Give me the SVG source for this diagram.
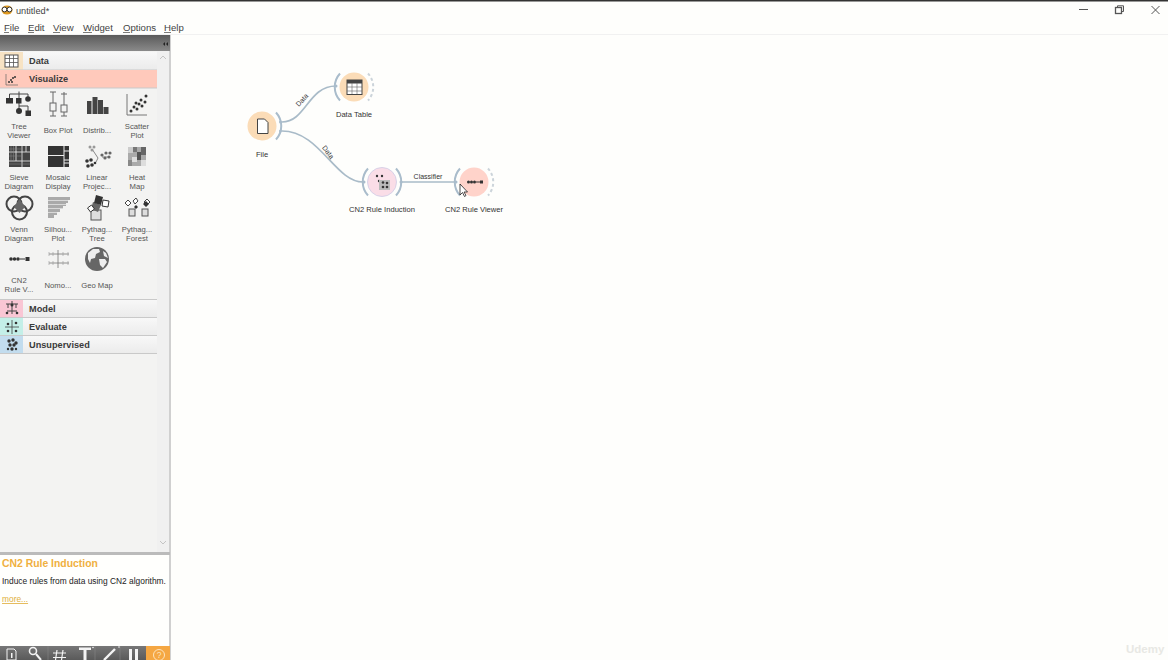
<svg xmlns="http://www.w3.org/2000/svg" width="1168" height="660" viewBox="0 0 1168 660">
<style>
text{font-family:"Liberation Sans","DejaVu Sans",sans-serif;fill:#333}
.m{font-size:9.6px;fill:#444}
.t{font-size:7.7px;text-anchor:middle;fill:#555}
.c{font-size:9.2px;font-weight:bold;fill:#3a3a3a}
.l{font-size:7.6px;text-anchor:middle;fill:#333}
.e{font-size:7px;text-anchor:middle;fill:#333}
.k{fill:#333}
.hl{stroke:#c9c9c9;stroke-width:1.2}
.w{fill:none;stroke:#a9bccb;stroke-width:2}
.wd{fill:none;stroke:#ccd4da;stroke-width:2;stroke-dasharray:3 2.5}
.lk{fill:none;stroke:#a9bbc8;stroke-width:1.7}
.tb{fill:#f4f4f4}
</style>
<defs>
<linearGradient id="hd" x1="0" y1="0" x2="0" y2="1"><stop offset="0" stop-color="#5a5a5a"/><stop offset="1" stop-color="#8a8a8a"/></linearGradient>
<linearGradient id="cat" x1="0" y1="0" x2="0" y2="1"><stop offset="0" stop-color="#f8f8f8"/><stop offset="1" stop-color="#ebebeb"/></linearGradient>
<linearGradient id="bar" x1="0" y1="0" x2="0" y2="1"><stop offset="0" stop-color="#777"/><stop offset="1" stop-color="#5a5a5a"/></linearGradient>
</defs>
<rect width="1168" height="660" fill="#fefefc"/>
<rect width="1168" height="1.500" fill="#333"/>
<rect y="34" width="1168" height="1" fill="#f1f1f1"/>

<g id="titlebar">
<ellipse cx="7" cy="10" rx="5.500" ry="4.500" fill="#e09a1f"/>
<circle cx="4.500" cy="9.500" r="2.400" fill="#fff" stroke="#333"/><circle cx="9.500" cy="9.500" r="2.400" fill="#fff" stroke="#333"/>
<text x="16" y="13.500" font-size="9.200" style="fill:#444">untitled*</text>
<path d="M1079 9.500H1088" stroke="#555" stroke-width="1"/>
<rect x="1115.500" y="7.500" width="6" height="6" fill="none" stroke="#555" stroke-width="1.300"/><path d="M1117.500 7V5.800H1123.500V11.500H1122" fill="none" stroke="#555"/>
<path d="M1151.500 6L1159.500 14M1159.500 6L1151.500 14" stroke="#555" stroke-width="1"/>
</g>
<g id="menubar">
<text class="m" x="4" y="31">File</text><path d="M4 32.500H9" stroke="#444" stroke-width=".7"/>
<text class="m" x="28" y="31">Edit</text><path d="M28 32.500H34" stroke="#444" stroke-width=".7"/>
<text class="m" x="53" y="31">View</text><path d="M53 32.500H60" stroke="#444" stroke-width=".7"/>
<text class="m" x="83" y="31">Widget</text><path d="M83 32.500H92" stroke="#444" stroke-width=".7"/>
<text class="m" x="123" y="31">Options</text><path d="M123 32.500H130" stroke="#444" stroke-width=".7"/>
<text class="m" x="164" y="31">Help</text><path d="M164 32.500H171" stroke="#444" stroke-width=".7"/>
</g>

<g id="toolbox">
<rect x="0" y="35" width="170" height="519" fill="#f3f3f2"/>
<rect x="169" y="35" width="2" height="625" fill="#d0d0d0"/>
<rect x="0" y="35" width="170" height="16" fill="url(#hd)"/>
<path d="M163 44l2-2v4zM166 44l2-2v4z" fill="#222"/>
<rect x="157" y="51" width="12" height="501" fill="#f0f0f0"/>
<path d="M160 59l3-3 3 3M160 541l3 3 3-3" fill="none" stroke="#c4c4c4"/>

<rect x="0" y="52" width="157" height="18" fill="url(#cat)"/>
<rect x="0" y="52" width="23" height="18" fill="#f7e3c4"/>
<rect x="5" y="55" width="13" height="12" fill="#fff" stroke="#555"/>
<path d="M5 58.500H18M5 62.500H18M9.500 55V67M13.500 55V67" stroke="#555" stroke-width=".8"/>
<text class="c" x="29" y="64.300">Data</text>
<path class="hl" d="M0 70H157"/>

<rect x="0" y="70" width="157" height="18" fill="#ffc9bb"/>
<path d="M6 74V85H18" fill="none" stroke="#666" stroke-width=".7"/>
<circle cx="9" cy="82" r="1" class="k"/><circle cx="11" cy="80" r="1" class="k"/><circle cx="13" cy="78" r="1" class="k"/><circle cx="15" cy="77" r="1" class="k"/><circle cx="12" cy="82" r="1" class="k"/>
<text class="c" x="29" y="82.300">Visualize</text>
<path class="hl" d="M0 88H157"/>

<rect x="0" y="299" width="157" height="18" fill="url(#cat)"/>
<rect x="0" y="300" width="23" height="17" fill="#f9c6d4"/>
<path d="M6 304H18M12 301V314M8 304V308M16 304V308M7 311H17" stroke="#444" stroke-width="1" fill="none"/>
<circle cx="12" cy="305" r="1.500" class="k"/><circle cx="7" cy="313" r="1.300" class="k"/><circle cx="17" cy="313" r="1.300" class="k"/>
<text class="c" x="29" y="312">Model</text>
<path class="hl" d="M0 299.500H157M0 317.500H157"/>

<rect x="0" y="318" width="157" height="18" fill="url(#cat)"/>
<rect x="0" y="318" width="23" height="18" fill="#c4efe8"/>
<path d="M5 327H19M12 320V334" stroke="#444" stroke-width=".8"/>
<circle cx="8" cy="324" r="1.300" class="k"/><circle cx="16" cy="323" r="1.300" class="k"/><circle cx="8" cy="331" r="1.300" class="k"/><circle cx="16" cy="331" r="1.300" class="k"/>
<text class="c" x="29" y="330">Evaluate</text>
<path class="hl" d="M0 335.500H157"/>

<rect x="0" y="336" width="157" height="18" fill="url(#cat)"/>
<rect x="0" y="336" width="23" height="18" fill="#c2dcee"/>
<g class="k"><circle cx="9" cy="341" r="1.700"/><circle cx="13" cy="340" r="1.700"/><circle cx="16" cy="343" r="1.700"/><circle cx="10" cy="345" r="1.700"/><circle cx="14" cy="345" r="1.700"/><circle cx="12" cy="349" r="1.700"/><circle cx="8" cy="349" r="1.200"/><circle cx="16" cy="349" r="1.200"/></g>
<text class="c" x="29" y="348.300">Unsupervised</text>
<path class="hl" d="M0 353.500H157"/>

<g id="tool-tree-viewer">
<path d="M9.500 94H28M19 91.500V98M9.500 94V98M28 94V97M19 103V109M19 106H28V111" stroke="#444" fill="none"/>
<rect x="6" y="98" width="7" height="5.500" class="k"/><rect x="16" y="98" width="5.500" height="5.500" class="k"/><circle cx="28" cy="99" r="2.800" class="k"/><circle cx="19" cy="111" r="3" class="k"/><rect x="25.500" y="110.500" width="5.500" height="5.500" class="k"/>
<text class="t" x="19" y="128.500">Tree</text><text class="t" x="19" y="137.500">Viewer</text>
</g>
<g id="tool-box-plot">
<path d="M53 92V116M64 92V116M50 92H56M61 94H67M50 116H56M61 116H67" stroke="#666"/>
<rect x="50" y="103" width="6" height="8" fill="#f3f3f2" stroke="#666"/><rect x="61" y="105" width="6" height="7" fill="#f3f3f2" stroke="#666"/>
<text class="t" x="58" y="133">Box Plot</text>
</g>
<g id="tool-distributions">
<rect x="87" y="101" width="4.500" height="13" fill="#444"/><rect x="92.500" y="97" width="5" height="17" fill="#444"/><rect x="98" y="100" width="5" height="14" fill="#444"/><rect x="103.500" y="107" width="5" height="7" fill="#444"/>
<text class="t" x="97" y="133">Distrib...</text>
</g>
<g id="tool-scatter-plot">
<path d="M127 94V115H147" fill="none" stroke="#777"/>
<g class="k"><circle cx="131" cy="111" r="1.500"/><circle cx="134" cy="107" r="1.500"/><circle cx="137" cy="109" r="1.500"/><circle cx="139" cy="104" r="1.500"/><circle cx="142" cy="106" r="1.500"/><circle cx="141" cy="100" r="1.500"/><circle cx="145" cy="102" r="1.500"/><circle cx="146" cy="96" r="1.500"/><circle cx="136" cy="103" r="1.500"/></g>
<text class="t" x="137" y="128.500">Scatter</text><text class="t" x="137" y="137.500">Plot</text>
</g>

<g id="tool-sieve">
<rect x="9" y="146" width="21" height="21" fill="#444"/><path d="M9 152H30M9 161H30M16 146V161M22 146V167M26 146V152" stroke="#eee" stroke-width=".8"/><path d="M11 146V161M13.500 146V161M9 149H22M9 156H22M9 164H30" stroke="#888" stroke-width=".5"/>
<text class="t" x="19" y="180">Sieve</text><text class="t" x="19" y="189">Diagram</text>
</g>
<g id="tool-mosaic">
<rect x="48" y="146" width="21" height="21" fill="#333"/><path d="M48 155.500H64M64 146V167M64 151H69M64 160H69M64 163H69" stroke="#eee"/>
<text class="t" x="58" y="180">Mosaic</text><text class="t" x="58" y="189">Display</text>
</g>
<g id="tool-linear">
<path d="M92 149L98 158M102 157H110M98 158L96 162" stroke="#888" fill="none"/>
<g fill="#999"><circle cx="90" cy="147" r="1.500"/><circle cx="94" cy="147" r="1.500"/><circle cx="92" cy="150" r="1.500"/></g>
<g fill="#666"><circle cx="102" cy="155" r="1.600"/><circle cx="106" cy="153" r="1.600"/><circle cx="110" cy="153" r="1.600"/><circle cx="105" cy="158" r="1.600"/><circle cx="109" cy="157" r="1.600"/></g>
<g class="k"><circle cx="87" cy="161" r="1.800"/><circle cx="91" cy="160" r="1.800"/><circle cx="88" cy="166" r="1.800"/><circle cx="92" cy="165" r="1.800"/><circle cx="95" cy="163" r="1.300"/></g>
<text class="t" x="97" y="180">Linear</text><text class="t" x="97" y="189">Projec...</text>
</g>
<g id="tool-heat">
<rect x="128" y="147" width="18" height="19" fill="#aaa"/>
<rect x="128" y="147" width="5" height="6" fill="#ccc"/><rect x="133" y="147" width="4" height="5" fill="#777"/><rect x="137" y="152" width="4" height="8" fill="#555"/><rect x="141" y="147" width="5" height="8" fill="#666"/><rect x="132" y="157" width="5" height="5" fill="#ddd"/><rect x="141" y="160" width="5" height="6" fill="#ddd"/><rect x="128" y="160" width="4" height="6" fill="#888"/>
<text class="t" x="137" y="180">Heat</text><text class="t" x="137" y="189">Map</text>
</g>

<g id="tool-venn">
<g fill="none" stroke="#444" stroke-width="2"><circle cx="14" cy="204" r="7.500"/><circle cx="25" cy="204" r="7.500"/><circle cx="19.500" cy="212" r="7.500"/></g>
<path d="M19.500 199L25 207 19.500 213 14 207z" fill="#666"/>
<text class="t" x="19" y="232">Venn</text><text class="t" x="19" y="241">Diagram</text>
</g>
<g id="tool-silhouette">
<path d="M48 197H70V200H68V203H66V206H63V209H60V212H57V215H54V218H48z" fill="#aaa"/><path d="M48 200.500H69M48 204.500H67M48 208.500H63M48 212.500H58" stroke="#eee" stroke-width=".7"/>
<text class="t" x="58" y="232">Silhou...</text><text class="t" x="58" y="241">Plot</text>
</g>
<g id="tool-pythagoras-tree">
<rect x="91" y="210" width="10" height="10" fill="#ddd" stroke="#555"/>
<path d="M93 202l8 3-3 7-7-3z" fill="#666"/><path d="M96 195l7 2-2 8-7-2z" fill="#333"/>
<path d="M87.500 208l4-3 3 4-4 3z" fill="#fff" stroke="#333"/><path d="M103 200l6 1-1 6-6-1z" fill="#fff" stroke="#333"/>
<text class="t" x="97" y="232">Pythag...</text><text class="t" x="97" y="241">Tree</text>
</g>
<g id="tool-pythagoras-forest">
<rect x="129" y="209" width="6" height="7" fill="#ddd" stroke="#555"/><rect x="142" y="209" width="6" height="7" fill="#ddd" stroke="#555"/>
<path d="M125 203l3-3 3 3-3 3zM133 201l3-3 2 3-3 3zM144 202l3-3 3 3-3 3z" fill="#fff" stroke="#444"/><path d="M134 207l2-2 2 2-2 2zM143 204l3-3 3 3-3 3z" fill="#333"/>
<text class="t" x="137" y="232">Pythag...</text><text class="t" x="137" y="241">Forest</text>
</g>

<g id="tool-cn2-viewer">
<circle cx="11" cy="259" r="1.800" class="k"/><circle cx="14.500" cy="259" r="1.800" class="k"/><circle cx="18" cy="259" r="1.800" class="k"/><path d="M20 259H25" stroke="#333"/><rect x="25.500" y="257" width="4" height="4" class="k"/>
<text class="t" x="19" y="283">CN2</text><text class="t" x="19" y="292">Rule V...</text>
</g>
<g id="tool-nomogram">
<path d="M49 254H69M49 263H69M58 250V268" stroke="#777" stroke-width=".8" fill="none"/>
<path d="M49 252V256M53 252V256M63 252V256M68 252V256M49 261V265M53 261V265M63 261V265M68 261V265" stroke="#999" stroke-width=".6"/>
<text class="t" x="58" y="288">Nomo...</text>
</g>
<g id="tool-geo">
<circle cx="97" cy="259" r="12" fill="#666"/>
<path d="M88 253l5-4 6 0 1 3-4 2-1 4-4 1-1 4-2-4zM99 259l6 0 2 3-4 6-3-3zM103 251l3 2 2 5-4-2z" fill="#eee"/>
<text class="t" x="97" y="288">Geo Map</text>
</g>
</g>

<g id="description">
<rect x="0" y="552" width="170" height="3" fill="#bbb"/>
<rect x="0" y="555" width="169" height="90" fill="#fffffd"/>
<text x="2" y="567" font-size="10.400" font-weight="bold" style="fill:#f0b040">CN2 Rule Induction</text>
<text x="2" y="584" font-size="8.400" style="fill:#222">Induce rules from data using CN2 algorithm.</text>
<text x="2" y="602" font-size="8.400" text-decoration="underline" style="fill:#e0b040">more...</text>
</g>

<g id="dock">
<rect x="0" y="646" width="170" height="14" fill="url(#bar)"/>
<rect x="146" y="646" width="24" height="14" fill="#f5a742"/>
<path d="M48 646V660M95 646V660M120 646V660" stroke="#888" stroke-width=".6"/>
<path d="M7 649H14L16 651V660H7z" fill="none" stroke="#f4f4f4"/><rect x="11" y="653" width="1.500" height="5" class="tb"/>
<circle cx="33" cy="651" r="3.500" fill="none" stroke="#f4f4f4" stroke-width="1.600"/><path d="M36 654L41 660" stroke="#f4f4f4" stroke-width="2"/>
<path d="M57 650L55.500 660M63 650L61.500 660M53 653H66M53 657.500H66" stroke="#f4f4f4" stroke-width="1.200"/>
<path d="M79 647.500H91V650H86.500V660H83.500V650H79z" class="tb"/><circle cx="93" cy="647.500" r=".8" class="tb"/>
<path d="M104 660L115 649" stroke="#f4f4f4" stroke-width="2.400"/><circle cx="119" cy="647" r=".8" class="tb"/>
<rect x="129" y="649" width="3" height="11" class="tb"/><rect x="135" y="649" width="3" height="11" class="tb"/>
<circle cx="159" cy="655" r="5.500" fill="none" stroke="#fde4bd"/>
<text x="159" y="658" font-size="8.500" text-anchor="middle" style="fill:#fde4bd">?</text>
</g>

<g id="connectors">
<path class="lk" d="M282 122C306 122 308 86 336 86"/>
<path class="lk" d="M282 131C320 131 335 182 363 182"/>
<path class="lk" d="M402 182H455"/>
<text class="e" transform="translate(303 101) rotate(-47)" x="0" y="1">Data</text>
<text class="e" transform="translate(327 153) rotate(52)" x="0" y="1">Data</text>
<text class="e" x="428" y="178.500">Classifier</text>
</g>

<g id="node-file">
<circle cx="262" cy="126" r="14.500" fill="#fbdcb7"/>
<path d="M257.500 119H264.500L268 122.500V133.500H257.500z" fill="#fff" stroke="#444"/>
<path class="w" d="M276 112.500A20 20 0 0 1 276 139.500"/>
<circle cx="280.500" cy="122" r="1.500" fill="#a9bccb"/><circle cx="280.500" cy="131" r="1.500" fill="#a9bccb"/>
<text class="l" x="262" y="157">File</text>
</g>
<g id="node-data-table">
<circle cx="354" cy="87" r="14.500" fill="#fbdcb7"/>
<rect x="347" y="80" width="15" height="14.500" fill="#fff" stroke="#444"/><rect x="347" y="80" width="15" height="3.500" fill="#444"/>
<path d="M347 87H362M347 91H362M352 83V94M357 83V94" stroke="#666" stroke-width=".6"/>
<path class="w" d="M340 73.500A20 20 0 0 0 340 100.500"/>
<path class="wd" d="M368 73.500A20 20 0 0 1 368 100.500"/>
<circle cx="336" cy="86" r="1.500" fill="#a9bccb"/>
<text class="l" x="354" y="117">Data Table</text>
</g>
<g id="node-cn2-induction">
<circle cx="382" cy="182" r="14.500" fill="#fadde7" stroke="#d8d2e8" stroke-width="1"/>
<g class="k"><circle cx="377" cy="176" r="1.200"/><circle cx="382" cy="176" r="1.200"/><circle cx="379" cy="181" r="1.200"/></g>
<rect x="379" y="180" width="11" height="10" fill="#bbb"/>
<g class="k"><circle cx="383" cy="182.500" r="1.300"/><circle cx="387" cy="183" r="1.300"/><circle cx="383" cy="187" r="1.300"/><circle cx="387" cy="187" r="1.300"/></g>
<path class="w" d="M368 168.500A20 20 0 0 0 368 195.500"/>
<path class="w" d="M396 168.500A20 20 0 0 1 396 195.500"/>
<circle cx="364" cy="182" r="1.500" fill="#a9bccb"/><circle cx="401" cy="182" r="1.500" fill="#a9bccb"/>
<text class="l" x="382" y="212">CN2 Rule Induction</text>
</g>
<g id="node-cn2-viewer">
<circle cx="474" cy="182" r="14.500" fill="#ffd3ca"/>
<g class="k"><circle cx="468.500" cy="182" r="1.500"/><circle cx="471.500" cy="182" r="1.500"/><circle cx="474.500" cy="182" r="1.500"/></g>
<path d="M476 182H480" stroke="#333"/><rect x="480" y="180.500" width="3" height="3" class="k"/>
<path class="w" d="M460 168.500A20 20 0 0 0 460 195.500"/>
<path class="wd" d="M488 168.500A20 20 0 0 1 488 195.500"/>
<circle cx="456" cy="182" r="1.500" fill="#a9bccb"/>
<text class="l" x="474" y="212">CN2 Rule Viewer</text>
</g>
<path id="cursor" d="M460 184V195L462.500 192.500 464.500 196.500 466 195.500 464 192H467.500z" fill="#fff" stroke="#222" stroke-width=".8"/>
<text x="1126" y="653" font-size="11.500" font-weight="bold" style="fill:#e8e8e4">Udemy</text>
</svg>
